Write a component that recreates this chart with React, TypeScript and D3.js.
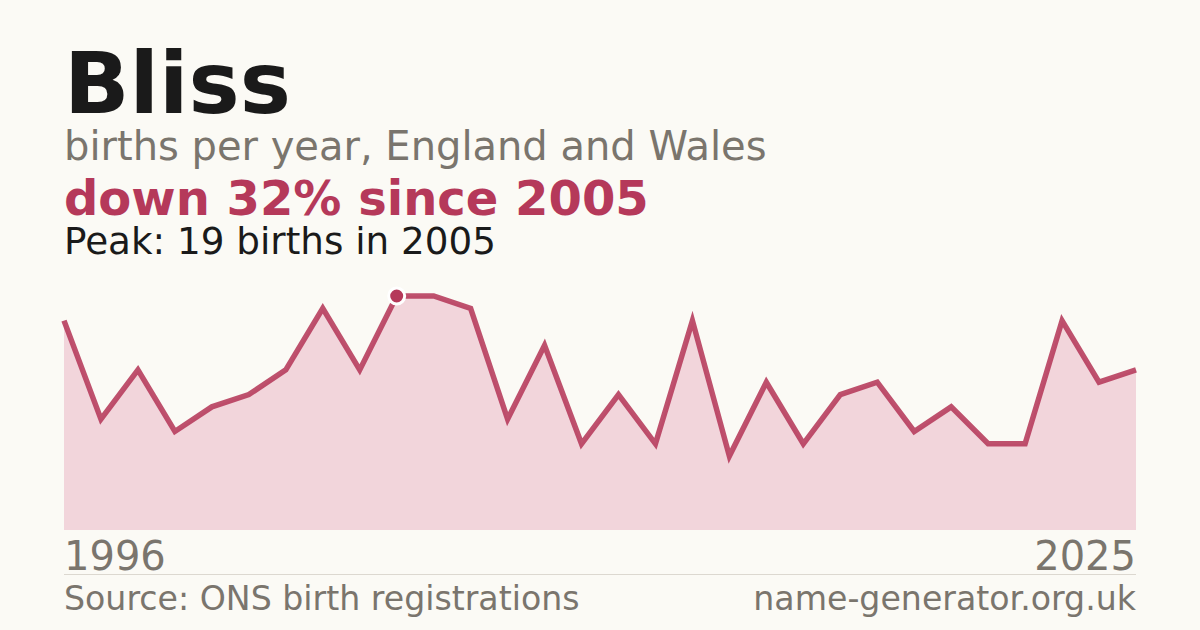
import React from "react";
import * as d3 from "d3";

const years: number[] = d3.range(1996, 2026);
const births: number[] = [17, 9, 13, 8, 10, 11, 13, 18, 13, 19, 19, 18, 9, 15, 7, 11, 7, 17, 6, 12, 7, 11, 12, 8, 10, 7, 7, 17, 12, 13];

const titleText = "Bliss";
const subtitleText = "births per year, England and Wales";
const changeText = "down 32% since 2005";
const peakText = "Peak: 19 births in 2005";
const sourceText = "Source: ONS birth registrations";
const siteText = "name-generator.org.uk";

const W = 1200;
const H = 630;
const FONT = "'DejaVu Sans', sans-serif";
const BG = "#fbfaf5";
const ACCENT = "#b5395a";
const GRAY = "#7a756d";

export default function App() {
  const left = 64;
  const right = 1136;
  const bottom = 530;
  const top = 296;

  const x = d3.scaleLinear().domain([years[0], years[years.length - 1]]).range([left, right]);
  const maxV = d3.max(births) as number;
  const y = d3.scaleLinear().domain([0, maxV]).range([bottom, top]);

  const data = years.map((yr, i) => ({ yr, v: births[i] }));
  const line = d3.line<{ yr: number; v: number }>().x((d) => x(d.yr)).y((d) => y(d.v));
  const area = d3
    .area<{ yr: number; v: number }>()
    .x((d) => x(d.yr))
    .y0(bottom)
    .y1((d) => y(d.v));

  const peakIdx = births.indexOf(maxV);
  const peak = data[peakIdx];

  return (
    <svg
      width={W}
      height={H}
      viewBox={`0 0 ${W} ${H}`}
      style={{ position: "absolute", left: 0, top: 0, display: "block" }}
      fontFamily={FONT}
    >
      <rect x={0} y={0} width={W} height={H} fill={BG} />
      <text x={left} y={113} fontSize={86} fontWeight="bold" fill="#1a1a1a">
        {titleText}
      </text>
      <text x={left} y={160} fontSize={40} fill={GRAY}>
        {subtitleText}
      </text>
      <text x={left} y={215} fontSize={48} fontWeight="bold" fill={ACCENT}>
        {changeText}
      </text>
      <text x={left} y={253.5} fontSize={37.3} fill="#1a1a1a">
        {peakText}
      </text>

      <path d={area(data) || ""} fill="#f2d5db" />
      <path
        d={line(data) || ""}
        fill="none"
        stroke={ACCENT}
        strokeWidth={5.5}
        strokeOpacity={0.88}
        strokeLinejoin="miter"
      />
      <circle cx={x(peak.yr)} cy={y(peak.v)} r={8} fill={ACCENT} stroke="#ffffff" strokeWidth={3} />

      <text x={left} y={570} fontSize={40} fill={GRAY}>
        {years[0]}
      </text>
      <text x={right} y={570} fontSize={40} fill={GRAY} textAnchor="end">
        {years[years.length - 1]}
      </text>
      <line x1={left} x2={right} y1={574.5} y2={574.5} stroke="#dcd8d0" strokeWidth={1} />
      <text x={left} y={610} fontSize={33.2} fill={GRAY}>
        {sourceText}
      </text>
      <text x={right} y={610} fontSize={33.2} fill={GRAY} textAnchor="end">
        {siteText}
      </text>
    </svg>
  );
}
